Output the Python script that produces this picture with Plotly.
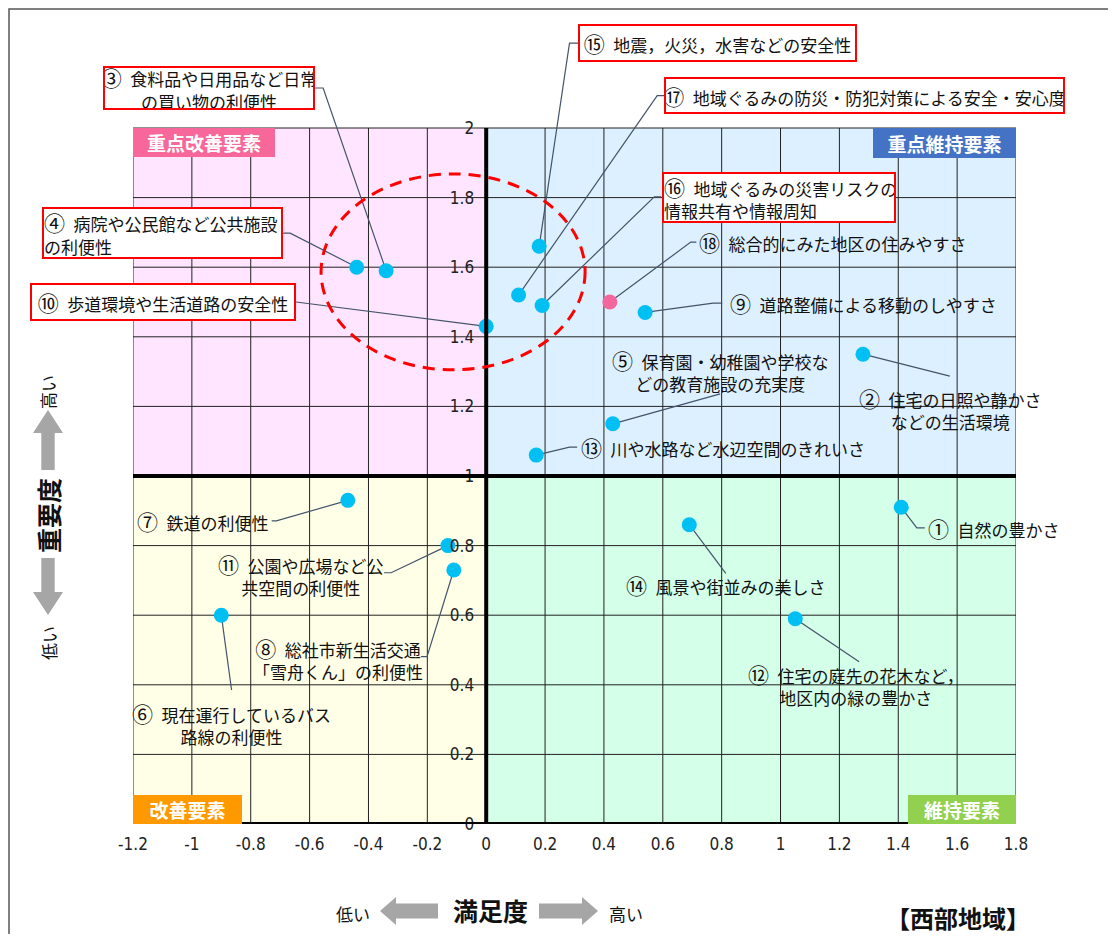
import plotly.graph_objects as go

# 満足度 (x) / 重要度 (y) for items ①〜⑱
item_no = list(range(1, 19))
satisfaction = [1.41, 1.28, -0.34, -0.44, 0.43, -0.90, -0.47, -0.11, 0.54,
                0.00, -0.13, 1.05, 0.17, 0.69, 0.18, 0.19, 0.11, 0.42]
importance = [0.91, 1.35, 1.59, 1.60, 1.15, 0.60, 0.93, 0.73, 1.47,
              1.43, 0.80, 0.59, 1.06, 0.86, 1.66, 1.49, 1.52, 1.50]
item_text = [
    "自然の豊かさ",
    "住宅の日照や静かさ<br>などの生活環境",
    "食料品や日用品など日常<br>の買い物の利便性",
    "病院や公民館など公共施設<br>の利便性",
    "保育園・幼稚園や学校な<br>どの教育施設の充実度",
    "現在運行しているバス<br>路線の利便性",
    "鉄道の利便性",
    "総社市新生活交通<br>「雪舟くん」の利便性",
    "道路整備による移動のしやすさ",
    "歩道環境や生活道路の安全性",
    "公園や広場など公<br>共空間の利便性",
    "住宅の庭先の花木など，<br>地区内の緑の豊かさ",
    "川や水路など水辺空間のきれいさ",
    "風景や街並みの美しさ",
    "地震，火災，水害などの安全性",
    "地域ぐるみの災害リスクの<br>情報共有や情報周知",
    "地域ぐるみの防災・防犯対策による安全・安心度",
    "総合的にみた地区の住みやすさ",
]
overall_item = 18
boxed_items = [3, 4, 10, 15, 16, 17]

x_ticks = [-1.2, -1.0, -0.8, -0.6, -0.4, -0.2, 0.0, 0.2, 0.4, 0.6, 0.8,
           1.0, 1.2, 1.4, 1.6, 1.8]
y_ticks = [0.0, 0.2, 0.4, 0.6, 0.8, 1.0, 1.2, 1.4, 1.6, 1.8, 2.0]

# label placement: (x, y, xanchor, align, leader end, leader elbow, box w, box h)
label_pos = {
    1: (1.494, 0.851, "left", "left", (1.490, 0.851), (1.463, 0.851), None, None),
    2: (1.576, 1.195, "center", "center", (1.575, 1.287), None, None, None),
    3: (-0.941, 2.115, "center", "center", (-0.581, 2.115), (-0.554, 2.115), 208, 40),
    4: (-1.100, 1.698, "center", "left", (-0.690, 1.698), (-0.666, 1.698), 237, 48),
    5: (0.795, 1.302, "center", "center", (0.795, 1.236), None, None, None),
    6: (-0.866, 0.289, "center", "center", (-0.865, 0.385), None, None, None),
    7: (-0.732, 0.871, "right", "left", (-0.729, 0.871), (-0.713, 0.871), None, None),
    8: (-0.505, 0.477, "center", "center", (-0.222, 0.481), (-0.201, 0.481), None, None),
    9: (0.822, 1.497, "left", "left", (0.802, 1.497), (0.771, 1.497), None, None),
    10: (-1.097, 1.500, "center", "center", (-0.646, 1.500), (-0.632, 1.500), 262, 34),
    11: (-0.629, 0.717, "center", "center", (-0.347, 0.722), (-0.323, 0.722), None, None),
    12: (1.257, 0.402, "center", "center", (1.267, 0.466), None, None, None),
    13: (0.315, 1.084, "left", "left", (0.309, 1.083), (0.283, 1.083), None, None),
    14: (0.814, 0.687, "center", "center", (0.814, 0.720), None, None, None),
    15: (0.786, 2.244, "center", "center", (0.313, 2.244), (0.283, 2.244), 275, 34),
    16: (0.995, 1.800, "center", "left", (0.595, 1.802), (0.571, 1.802), 230, 47),
    17: (1.286, 2.093, "center", "center", (0.605, 2.093), (0.581, 2.093), 397, 33),
    18: (0.717, 1.672, "left", "left", (0.714, 1.672), (0.695, 1.672), None, None),
}

FONT = "Noto Sans CJK JP"
TICKFONT = "Liberation Sans Narrow, DejaVu Sans Condensed, Noto Sans CJK JP"
# page has an 8px body margin, so the figure is a bit smaller than the window
W, H = 1100, 926
ML, MR, MT, MB = 125, 92, 22, 110
PX_PER_Y = 348.0
y_top = (H - MT - MB) / PX_PER_Y


# helpers for decorations placed by screen pixel (relative to plot area)
def px_x(px):
    return (px - 133) / (W - ML - MR)


def px_y(py):
    return (824 - py) / (H - MT - MB)


fig = go.Figure()

# leader lines
lx, ly = [], []
for n, sx, iy in zip(item_no, satisfaction, importance):
    pos = label_pos[n]
    end, elbow = pos[4], pos[5]
    lx += [sx] + ([elbow[0]] if elbow else []) + [end[0], None]
    ly += [iy] + ([elbow[1]] if elbow else []) + [end[1], None]
fig.add_trace(go.Scatter(x=lx, y=ly, mode="lines",
                         line=dict(color="#44546A", width=1.2),
                         hoverinfo="skip", showlegend=False))

colors = ["#F4679D" if n == overall_item else "#00BFF3" for n in item_no]
fig.add_trace(go.Scatter(x=satisfaction, y=importance, mode="markers",
                         marker=dict(size=15, color=colors, line=dict(width=0)),
                         text=item_text, showlegend=False))

shapes = []
# quadrant backgrounds
quads = [(-1.2, 0, 1, 2, "#FFE5FF"), (0, 1.8, 1, 2, "#DDF0FF"),
         (-1.2, 0, 0, 1, "#FFFFE8"), (0, 1.8, 0, 1, "#D4FFE8")]
for x0, x1, y0, y1, c in quads:
    shapes.append(dict(type="rect", xref="x", yref="y", x0=x0, x1=x1, y0=y0, y1=y1,
                       fillcolor=c, line=dict(width=0), layer="below"))
# grid
for v in x_ticks:
    shapes.append(dict(type="line", xref="x", yref="y", x0=v, x1=v, y0=0, y1=2,
                       line=dict(color="#222222", width=1), layer="below"))
for v in y_ticks:
    shapes.append(dict(type="line", xref="x", yref="y", x0=-1.2, x1=1.8, y0=v, y1=v,
                       line=dict(color="#222222", width=1), layer="below"))
# thick axes
shapes.append(dict(type="line", xref="x", yref="y", x0=0, x1=0, y0=0, y1=2,
                   line=dict(color="black", width=4)))
shapes.append(dict(type="line", xref="x", yref="y", x0=-1.2, x1=1.8, y0=1, y1=1,
                   line=dict(color="black", width=4)))
shapes.append(dict(type="line", xref="x", yref="y", x0=-1.2, x1=1.8, y0=0, y1=0,
                   line=dict(color="black", width=4)))
# dashed ellipse around the priority group
shapes.append(dict(type="circle", xref="x", yref="y", x0=-0.561, x1=0.336,
                   y0=1.305, y1=1.868, line=dict(color="#FF0000", width=3, dash="12px,8px")))
# outer frame
shapes.append(dict(type="path", xref="paper", yref="paper",
                   path=f"M {px_x(9)},{px_y(960)} L {px_x(9)},{px_y(9)} L {px_x(1130)},{px_y(9)}",
                   line=dict(color="#555555", width=1.5)))


def block_arrow(pts):
    d = "M " + " L ".join(f"{px_x(a)},{px_y(b)}" for a, b in pts) + " Z"
    return dict(type="path", xref="paper", yref="paper", path=d,
                fillcolor="#A6A6A6", line=dict(width=0))


cy = 911
shapes.append(block_arrow([(380, cy), (396, cy - 14), (396, cy - 7.5), (438, cy - 7.5),
                           (438, cy + 7.5), (396, cy + 7.5), (396, cy + 14)]))
shapes.append(block_arrow([(598, cy), (582, cy - 14), (582, cy - 7.5), (539, cy - 7.5),
                           (539, cy + 7.5), (582, cy + 7.5), (582, cy + 14)]))
cx = 48
shapes.append(block_arrow([(cx, 410), (cx - 15, 433), (cx - 6.7, 433), (cx - 6.7, 470),
                           (cx + 6.7, 470), (cx + 6.7, 433), (cx + 15, 433)]))
shapes.append(block_arrow([(cx, 615), (cx - 15, 592), (cx - 6.7, 592), (cx - 6.7, 558),
                           (cx + 6.7, 558), (cx + 6.7, 592), (cx + 15, 592)]))

annotations = []
for n in item_no:
    x, y, xa, al, end, elbow, bw, bh = label_pos[n]
    num = f'<span style="font-size:21px">{chr(0x2460 + n - 1)}</span>'
    txt = f"{num}\u2002{item_text[n - 1]}"
    a = dict(x=x, y=y, xref="x", yref="y", text=txt, showarrow=False,
             xanchor=xa, yanchor="middle", align=al,
             font=dict(family=FONT, size=17, color="#111111"))
    if n in boxed_items:
        a.update(bordercolor="#FF0000", borderwidth=2, borderpad=0, bgcolor="white",
                 width=bw, height=bh)
    annotations.append(a)

quad_labels = [("重点改善要素", -1.2, 2, "left", "top", "#F7679A", 142, 29),
               ("重点維持要素", 1.8, 2, "right", "top", "#4472C4", 143, 30),
               ("改善要素", -1.2, 0, "left", "bottom", "#FF9900", 109, 29),
               ("維持要素", 1.8, 0, "right", "bottom", "#92D050", 108, 29)]
for t, x, y, xa, ya, c, w, h in quad_labels:
    annotations.append(dict(x=x, y=y, xref="x", yref="y", text=t, showarrow=False,
                            xanchor=xa, yanchor=ya, bgcolor=c, width=w, height=h,
                            borderpad=0, borderwidth=0,
                            font=dict(family=FONT, size=19, color="white", weight="bold")))

side_text = [("低い", 353, 913, 17, "normal", 0),
             ("満足度", 490, 910, 25, "bold", 0),
             ("高い", 626, 913, 17, "normal", 0),
             ("高い", 48, 392, 17, "normal", -90),
             ("重要度", 48, 516, 25, "bold", -90),
             ("低い", 48, 643, 17, "normal", -90),
             ("【西部地域】", 958, 917, 24, "bold", 0)]
for t, px, py, s, wt, ang in side_text:
    annotations.append(dict(x=px_x(px), y=px_y(py), xref="paper", yref="paper", text=t,
                            showarrow=False, xanchor="center", yanchor="middle",
                            textangle=ang, borderpad=0,
                            font=dict(family=FONT, size=s, color="#111111", weight=wt)))

fig.update_layout(
    width=W, height=H, autosize=False,
    margin=dict(l=ML, r=MR, t=MT, b=MB),
    paper_bgcolor="white", plot_bgcolor="white",
    shapes=shapes, annotations=annotations,
    showlegend=False,
    xaxis=dict(range=[-1.2, 1.8], tickvals=x_ticks, ticktext=[f"{v:g}" for v in x_ticks],
               showgrid=False, zeroline=False, showline=False, ticks="",
               ticklabelstandoff=8,
               tickfont=dict(family=TICKFONT, size=17, color="#222222")),
    yaxis=dict(range=[0, y_top], tickvals=y_ticks, ticktext=[f"{v:g}" for v in y_ticks],
               anchor="free", position=0.4, side="left",
               showgrid=False, zeroline=False, showline=False, ticks="",
               ticklabelstandoff=12,
               tickfont=dict(family=TICKFONT, size=17, color="#222222")),
)

fig.write_html("out.html")
